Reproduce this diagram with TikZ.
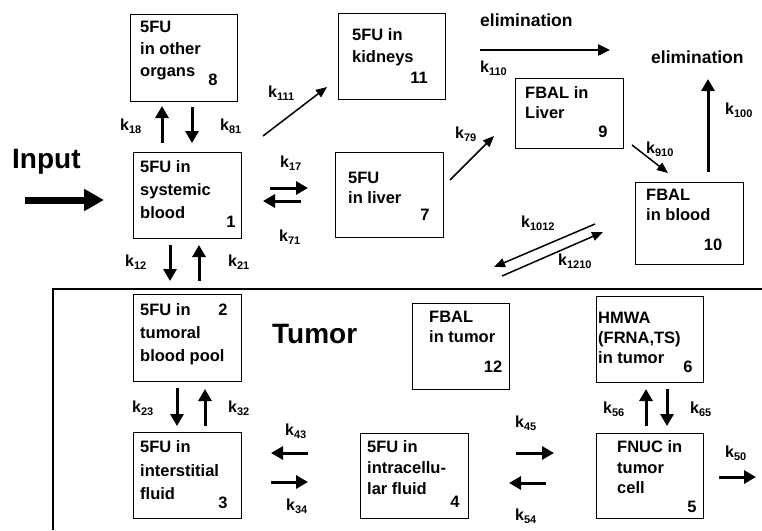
\documentclass[tikz,border=0pt]{standalone}
\usepackage{fontspec}
\setmainfont{Liberation Sans}
\usetikzlibrary{arrows.meta}
\newcommand{\kk}[1]{k\raisebox{-3.5pt}{\fontsize{11}{11}\selectfont #1}}
\tikzset{
  cbox/.style={draw, line width=1.3pt, inner sep=0pt, anchor=north west},
  txt/.style={font=\fontsize{16.5}{#1}\selectfont\bfseries, align=left, inner sep=0pt, anchor=north west},
  num/.style={font=\fontsize{16.5}{16.5}\selectfont\bfseries, inner sep=0pt, anchor=base},
  klab/.style={font=\fontsize{16}{16}\selectfont\bfseries, inner sep=0pt, anchor=base west},
  big/.style={font=\fontsize{28}{28}\selectfont\bfseries, inner sep=0pt, anchor=base west},
  elim/.style={font=\fontsize{17.5}{17.5}\selectfont\bfseries, inner sep=0pt, anchor=base west},
  fat/.style={line width=3pt, -{Triangle[length=12pt,width=13pt]}},
  thin/.style={line width=1.5pt, -{Triangle[length=11pt,width=9pt]}},
  mid/.style={line width=2.4pt, -{Triangle[length=12pt,width=11pt]}},
}
\begin{document}
\begin{tikzpicture}[x=1pt,y=-1pt]
\useasboundingbox (0,0) rectangle (762,530);

% boxes
\node[cbox, minimum width=107, minimum height=87] (b8) at (130,14) {};
\node[cbox, minimum width=108, minimum height=86] (b1) at (133,152) {};
\node[cbox, minimum width=107, minimum height=86] (b11) at (338,13) {};
\node[cbox, minimum width=108, minimum height=85] (b7) at (335,152) {};
\node[cbox, minimum width=108, minimum height=70] (b9) at (515,78) {};
\node[cbox, minimum width=108, minimum height=82] (b10) at (635,182) {};
\node[cbox, minimum width=108, minimum height=87] (b2) at (133,294) {};
\node[cbox, minimum width=108, minimum height=86] (b3) at (133,432) {};
\node[cbox, minimum width=108, minimum height=85] (b4) at (360,433) {};
\node[cbox, minimum width=97, minimum height=86] (b12) at (412,303) {};
\node[cbox, minimum width=107, minimum height=86] (b6) at (596,296) {};
\node[cbox, minimum width=107, minimum height=85] (b5) at (596,433) {};

% tumor frame
\draw[line width=1.3pt] (762,289) -- (53,289) -- (53,530);

% box texts
\node[txt=22] (t8) at (140,20.5) {5FU\\in other\\organs};
\node[num] (n8) at (213,85) {8};
\node[txt=23] (t1) at (140,160.5) {5FU in\\systemic\\blood};
\node[num] (n1) at (231,227) {1};
\node[txt=22] (t11) at (352,28.5) {5FU in\\kidneys};
\node[num] (n11) at (419,83) {11};
\node[txt=20] (t7) at (348,171.5) {5FU\\in liver};
\node[num] (n7) at (425,220) {7};
\node[txt=20] (t9) at (525,86.5) {FBAL in\\Liver};
\node[num] (n9) at (603,137) {9};
\node[txt=20] (t10) at (646,188.5) {FBAL\\in blood};
\node[num] (n10) at (713,250) {10};
\node[txt=23] (t2) at (140,303.5) {5FU in\\tumoral\\blood pool};
\node[num] (n2) at (223,315) {2};
\node[txt=23.5] (t3) at (140,440.5) {5FU in\\interstitial\\fluid};
\node[num] (n3) at (223,508) {3};
\node[txt=21] (t4) at (367,440.5) {5FU in\\intracellu-\\lar fluid};
\node[num] (n4) at (455,507) {4};
\node[txt=20] (t12) at (429,310.5) {FBAL\\in tumor};
\node[num] (n12) at (493,372) {12};
\node[txt=20] (t6) at (598,311.5) {HMWA\\(FRNA,TS)\\in tumor};
\node[num] (n6) at (688,372) {6};
\node[txt=20.5] (t5) at (617,440.5) {FNUC in\\tumor\\cell};
\node[num] (n5) at (692,512) {5};

% big labels
\node[big] (inp) at (12,168) {Input};
\node[big] (tum) at (272,343) {Tumor};
\node[elim] (el1) at (480,27) {elimination};
\node[elim] (el2) at (651,63) {elimination};

% arrow end coordinates
\coordinate (i0) at (25,200); \coordinate (i1) at (104,200);
\coordinate (a18s) at (162,143); \coordinate (a18e) at (162,106);
\coordinate (a81s) at (192,107); \coordinate (a81e) at (192,143);
\coordinate (a111s) at (263,136); \coordinate (a111e) at (327,87);
\coordinate (a17s) at (270,188); \coordinate (a17e) at (308,188);
\coordinate (a71s) at (301,201); \coordinate (a71e) at (263,201);
\coordinate (a12s) at (170,245); \coordinate (a12e) at (170,281);
\coordinate (a21s) at (199,281); \coordinate (a21e) at (199,245);
\coordinate (a110s) at (480,50); \coordinate (a110e) at (610,50);
\coordinate (a79s) at (450,180); \coordinate (a79e) at (494,136);
\coordinate (a910s) at (632,145); \coordinate (a910e) at (668,173);
\coordinate (a100s) at (708,172); \coordinate (a100e) at (708,79);
\coordinate (a1012s) at (595,224); \coordinate (a1012e) at (494,267);
\coordinate (a1210s) at (502,276); \coordinate (a1210e) at (603,232);
\coordinate (a23s) at (177,388); \coordinate (a23e) at (177,426);
\coordinate (a32s) at (205,426); \coordinate (a32e) at (205,389);
\coordinate (a43s) at (308,453); \coordinate (a43e) at (271,453);
\coordinate (a34s) at (271,482); \coordinate (a34e) at (308,482);
\coordinate (a45s) at (516,453); \coordinate (a45e) at (554,453);
\coordinate (a54s) at (546,483); \coordinate (a54e) at (509,483);
\coordinate (a56s) at (646,426); \coordinate (a56e) at (646,389);
\coordinate (a65s) at (667,389); \coordinate (a65e) at (667,426);
\coordinate (a50s) at (719,477); \coordinate (a50e) at (756,477);

% arrows
\draw[line width=7pt, -{Triangle[length=20pt,width=21pt]}] (i0) -- (i1);
\draw[fat] (a18s) -- (a18e);
\draw[fat] (a81s) -- (a81e);
\draw[thin] (a111s) -- (a111e);
\draw[fat] (a17s) -- (a17e);
\draw[fat] (a71s) -- (a71e);
\draw[fat] (a12s) -- (a12e);
\draw[fat] (a21s) -- (a21e);
\draw[mid] (a110s) -- (a110e);
\draw[thin] (a79s) -- (a79e);
\draw[thin] (a910s) -- (a910e);
\draw[fat] (a100s) -- (a100e);
\draw[thin] (a1012s) -- (a1012e);
\draw[thin] (a1210s) -- (a1210e);
\draw[fat] (a23s) -- (a23e);
\draw[fat] (a32s) -- (a32e);
\draw[fat] (a43s) -- (a43e);
\draw[fat] (a34s) -- (a34e);
\draw[fat] (a45s) -- (a45e);
\draw[fat] (a54s) -- (a54e);
\draw[fat] (a56s) -- (a56e);
\draw[fat] (a65s) -- (a65e);
\draw[fat] (a50s) -- (a50e);

% rate labels
\node[klab] (k18) at (120,130) {\kk{18}};
\node[klab] (k81) at (220,130) {\kk{81}};
\node[klab] (k111) at (268,97) {\kk{111}};
\node[klab] (k17) at (280,167) {\kk{17}};
\node[klab] (k71) at (279,241) {\kk{71}};
\node[klab] (k12) at (125,266) {\kk{12}};
\node[klab] (k21) at (228,266) {\kk{21}};
\node[klab] (k110) at (480,72) {\kk{110}};
\node[klab] (k79) at (455,138) {\kk{79}};
\node[klab] (k910) at (646,153) {\kk{910}};
\node[klab] (k100) at (725,114) {\kk{100}};
\node[klab] (k1012) at (521,227) {\kk{1012}};
\node[klab] (k1210) at (558,265) {\kk{1210}};
\node[klab] (k23) at (132,412) {\kk{23}};
\node[klab] (k32) at (228,412) {\kk{32}};
\node[klab] (k43) at (285,435) {\kk{43}};
\node[klab] (k34) at (286,510) {\kk{34}};
\node[klab] (k45) at (515,427) {\kk{45}};
\node[klab] (k54) at (515,520) {\kk{54}};
\node[klab] (k56) at (603,413) {\kk{56}};
\node[klab] (k65) at (690,413) {\kk{65}};
\node[klab] (k50) at (725,457) {\kk{50}};
\end{tikzpicture}
\end{document}
